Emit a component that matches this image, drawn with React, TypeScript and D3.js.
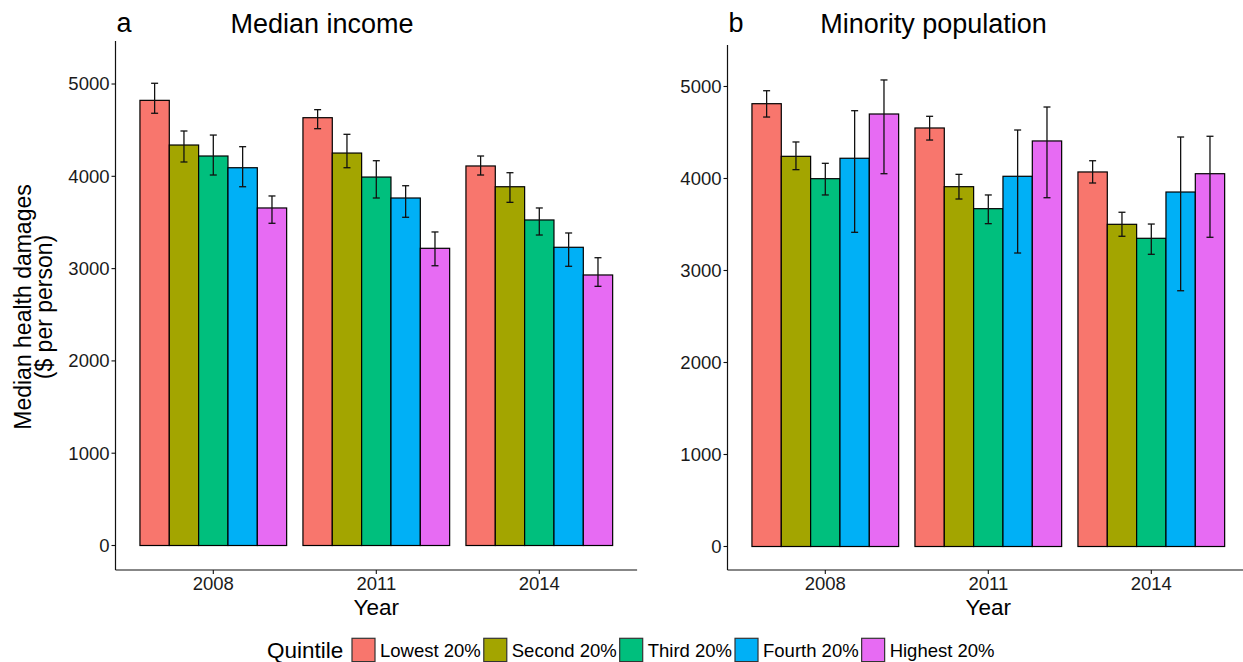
import React from "react";
import * as d3 from "d3";

// Survey years and income/minority quintile groups
const years = ["2008", "2011", "2014"];
const quintiles = ["Lowest 20%", "Second 20%", "Third 20%", "Fourth 20%", "Highest 20%"];
const quintileColors = ["#F8766D", "#A3A500", "#00BF7D", "#00B0F6", "#E76BF3"];
const yTicks = [0, 1000, 2000, 3000, 4000, 5000];

// Panel a: median income quintiles (rows = years, columns = quintiles)
const incomeMedian = [
  [4823, 4339, 4220, 4093, 3657],
  [4635, 4252, 3992, 3765, 3220],
  [4112, 3887, 3527, 3231, 2931],
];
const incomeLower = [
  [4683, 4155, 4014, 3887, 3491],
  [4516, 4093, 3765, 3556, 3031],
  [4014, 3718, 3364, 3025, 2808],
];
const incomeUpper = [
  [5008, 4491, 4447, 4321, 3787],
  [4722, 4455, 4169, 3898, 3397],
  [4220, 4039, 3657, 3386, 3118],
];

// Panel b: minority population quintiles
const minorityMedian = [
  [4813, 4241, 3998, 4220, 4701],
  [4549, 3911, 3672, 4024, 4408],
  [4071, 3502, 3350, 3853, 4052],
];
const minorityLower = [
  [4668, 4096, 3821, 3415, 4052],
  [4418, 3777, 3509, 3190, 3791],
  [3951, 3372, 3176, 2780, 3361],
];
const minorityUpper = [
  [4954, 4397, 4165, 4737, 5071],
  [4676, 4045, 3821, 4527, 4777],
  [4193, 3633, 3505, 4451, 4459],
];

const FONT = "'Liberation Sans', Arial, Helvetica, sans-serif";
const INK = "#111";

type PanelProps = {
  letter: string;
  title: string;
  titleX: number;
  left: number;
  top: number;
  bottom: number;
  yDomain: [number, number];
  median: number[][];
  lower: number[][];
  upper: number[][];
};

function Panel({ letter, title, titleX, left, top, bottom, yDomain, median, lower, upper }: PanelProps) {
  const step = 163;
  const right = left + step * 3.2;
  const x = d3.scaleBand<string>().domain(years).range([left, right]).paddingInner(0).paddingOuter(0.1);
  const y = d3.scaleLinear().domain(yDomain).range([bottom, top]);
  const center = (yr: string) => (x(yr) as number) + x.bandwidth() / 2;

  return (
    <g>
      <text x={left + 1} y={32.3} fontSize={27} fontFamily={FONT} fill="#000">
        {letter}
      </text>
      <text x={titleX} y={33} fontSize={27} fontFamily={FONT} textAnchor="middle" fill="#000">
        {title}
      </text>

      {years.map((yr, i) => {
        const inner = d3
          .scaleBand<string>()
          .domain(quintiles)
          .range([center(yr) - 0.45 * step, center(yr) + 0.45 * step]);
        return (
          <g key={yr}>
            {quintiles.map((q, j) => {
              const bx = inner(q) as number;
              const bw = inner.bandwidth();
              const cx = bx + bw / 2;
              return (
                <g key={q}>
                  <rect
                    x={bx}
                    y={y(median[i][j])}
                    width={bw}
                    height={y(0) - y(median[i][j])}
                    fill={quintileColors[j]}
                    stroke="#000"
                    strokeWidth={1.2}
                  />
                  <g stroke={INK} strokeWidth={1.3} fill="none">
                    <line x1={cx} x2={cx} y1={y(lower[i][j])} y2={y(upper[i][j])} />
                    <line x1={cx - 3.5} x2={cx + 3.5} y1={y(lower[i][j])} y2={y(lower[i][j])} />
                    <line x1={cx - 3.5} x2={cx + 3.5} y1={y(upper[i][j])} y2={y(upper[i][j])} />
                  </g>
                </g>
              );
            })}
          </g>
        );
      })}

      {/* axes */}
      <line x1={left} x2={left} y1={top} y2={bottom} stroke={INK} strokeWidth={1.2} />
      <line x1={left} x2={right} y1={bottom} y2={bottom} stroke={INK} strokeWidth={1.2} />

      {yTicks.map((t) => (
        <g key={t}>
          <line x1={left - 4} x2={left} y1={y(t)} y2={y(t)} stroke={INK} strokeWidth={1.1} />
          <text
            x={left - 6}
            y={y(t)}
            dy="0.35em"
            textAnchor="end"
            fontSize={18.5}
            fontFamily={FONT}
            fill="#1a1a1a"
          >
            {t}
          </text>
        </g>
      ))}

      {years.map((yr) => (
        <g key={yr}>
          <line x1={center(yr)} x2={center(yr)} y1={bottom} y2={bottom + 4} stroke={INK} strokeWidth={1.1} />
          <text x={center(yr)} y={590} textAnchor="middle" fontSize={18.5} fontFamily={FONT} fill="#1a1a1a">
            {yr}
          </text>
        </g>
      ))}

      <text x={(left + right) / 2} y={615} textAnchor="middle" fontSize={22.5} fontFamily={FONT} fill="#000">
        Year
      </text>
    </g>
  );
}

function Legend() {
  const keyW = 23;
  const keyH = 23.3;
  const keyY = 638.3;
  const fs = 18.5;
  // label widths measured with a canvas so the keys follow their text
  const canvas = typeof document !== "undefined" ? document.createElement("canvas") : null;
  const ctx = canvas ? canvas.getContext("2d") : null;
  if (ctx) ctx.font = `${fs}px 'Liberation Sans', Arial, sans-serif`;
  let cursor = 352;
  const items = quintiles.map((q, j) => {
    const w = ctx ? ctx.measureText(q).width : q.length * 9.5;
    const item = { q, color: quintileColors[j], kx: cursor, tx: cursor + keyW + 5 };
    cursor = cursor + keyW + 5 + w + 3;
    return item;
  });
  return (
    <g>
      <text x={267} y={658} fontSize={22.5} fontFamily={FONT} fill="#000">
        Quintile
      </text>
      {items.map((it) => (
        <g key={it.q}>
          <rect x={it.kx} y={keyY} width={keyW} height={keyH} fill={it.color} stroke="#333" strokeWidth={1.2} />
          <text x={it.tx} y={657} fontSize={fs} fontFamily={FONT} fill="#000">
            {it.q}
          </text>
        </g>
      ))}
    </g>
  );
}

export default function App() {
  return (
    <svg
      width={1243}
      height={662}
      viewBox="0 0 1243 662"
      style={{ position: "absolute", left: 0, top: 0, background: "#fff" }}
    >
      <rect x={0} y={0} width={1243} height={662} fill="#fff" />
      <Panel
        letter="a"
        title="Median income"
        titleX={322}
        left={115.5}
        top={41}
        bottom={570}
        yDomain={[-265.4, 5466]}
        median={incomeMedian}
        lower={incomeLower}
        upper={incomeUpper}
      />
      <Panel
        letter="b"
        title="Minority population"
        titleX={933.5}
        left={727.5}
        top={45}
        bottom={570}
        yDomain={[-255.4, 5451]}
        median={minorityMedian}
        lower={minorityLower}
        upper={minorityUpper}
      />
      <g transform="translate(0,307) rotate(-90)" fontFamily={FONT} fontSize={23} fill="#000" textAnchor="middle">
        <text x={0} y={31}>Median health damages</text>
        <text x={0} y={52}>($ per person)</text>
      </g>
      <Legend />
    </svg>
  );
}
